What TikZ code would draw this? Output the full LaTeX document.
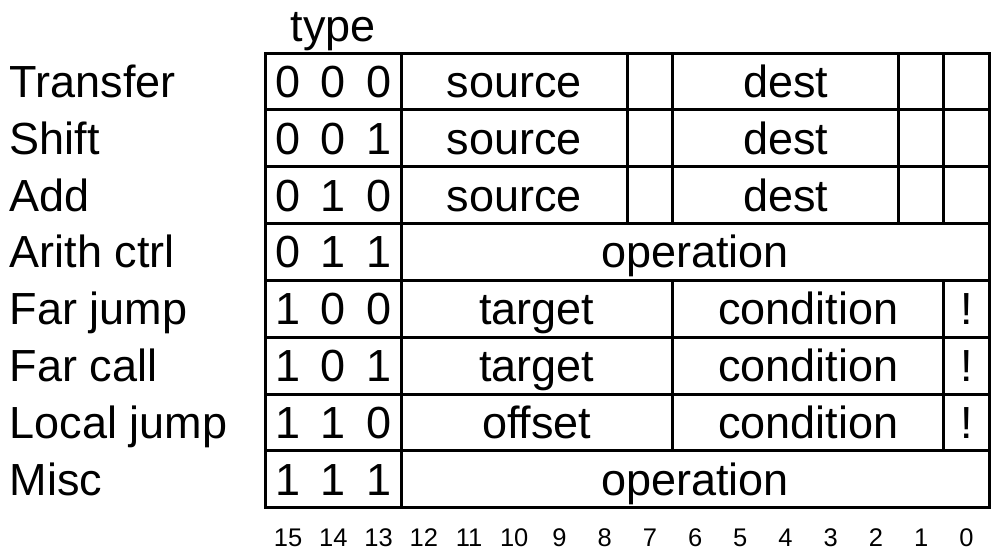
\documentclass[tikz,border=0pt]{standalone}
\usepackage{fontspec}
\setmainfont{Liberation Sans}
\begin{document}
\begin{tikzpicture}[x=1pt,y=-1pt,
  lbl/.style={anchor=base west,font=\fontsize{45}{50}\selectfont,inner sep=0pt},
  cell/.style={anchor=base,font=\fontsize{45}{50}\selectfont,inner sep=0pt},
  bitnum/.style={anchor=base,font=\fontsize{25.5}{28}\selectfont,inner sep=0pt},
  gridline/.style={line width=3pt,line cap=rect}]
\def\L{265.5}\def\W{45.22}\def\T{53}\def\H{56.85}
\useasboundingbox (0,0) rectangle (1000,554);
% frame and row lines
\draw[gridline] (\L,\T) rectangle ({\L+16*\W},{\T+8*\H});
\foreach \r in {1,...,7}
  \draw[gridline] (\L,{\T+\r*\H}) -- ({\L+16*\W},{\T+\r*\H});
% type divider
\draw[gridline] ({\L+3*\W},\T) -- ({\L+3*\W},{\T+8*\H});
% rows 0-2 dividers
\foreach \c in {8,9,14,15}
  \draw[gridline] ({\L+\c*\W},\T) -- ({\L+\c*\W},{\T+3*\H});
% rows 4-6 dividers
\foreach \c in {9,15}
  \draw[gridline] ({\L+\c*\W},{\T+4*\H}) -- ({\L+\c*\W},{\T+7*\H});
% header
\node[cell] (type) at ({\L+1.5*\W},41.5) {type};
% row labels
\foreach \name [count=\r from 0] in {Transfer,Shift,Add,Arith ctrl,Far jump,Far call,Local jump,Misc}
  \node[lbl] (lab\r) at (9.5,{\T+(\r+0.5)*\H+16}) {\name};
% type digits
\foreach \r in {0,...,7} {
  \pgfmathtruncatemacro\da{floor(\r/4)}
  \pgfmathtruncatemacro\db{mod(floor(\r/2),2)}
  \pgfmathtruncatemacro\dc{mod(\r,2)}
  \node[cell] (d\r a) at ({\L+0.5*\W},{\T+(\r+0.5)*\H+16}) {\da};
  \node[cell] (d\r b) at ({\L+1.5*\W},{\T+(\r+0.5)*\H+16}) {\db};
  \node[cell] (d\r c) at ({\L+2.5*\W},{\T+(\r+0.5)*\H+16}) {\dc};
}
% fields
\foreach \r/\a/\b/\txt/\nm in {0/3/8/source/src0,0/9/14/dest/dst0,
  1/3/8/source/src1,1/9/14/dest/dst1,
  2/3/8/source/src2,2/9/14/dest/dst2,
  3/3/16/operation/op3,
  4/3/9/target/tg4,4/9/15/condition/cd4,4/15/16/!/nt4,
  5/3/9/target/tg5,5/9/15/condition/cd5,5/15/16/!/nt5,
  6/3/9/offset/of6,6/9/15/condition/cd6,6/15/16/!/nt6,
  7/3/16/operation/op7}
  \node[cell] (\nm) at ({\L+(\a+\b)/2*\W},{\T+(\r+0.5)*\H+16}) {\txt};
% bit numbers
\foreach \b in {0,...,15}
  \node[bitnum] (bit\b) at ({\L+(15-\b+0.5)*\W},546.5) {\b};
\end{tikzpicture}
\end{document}
